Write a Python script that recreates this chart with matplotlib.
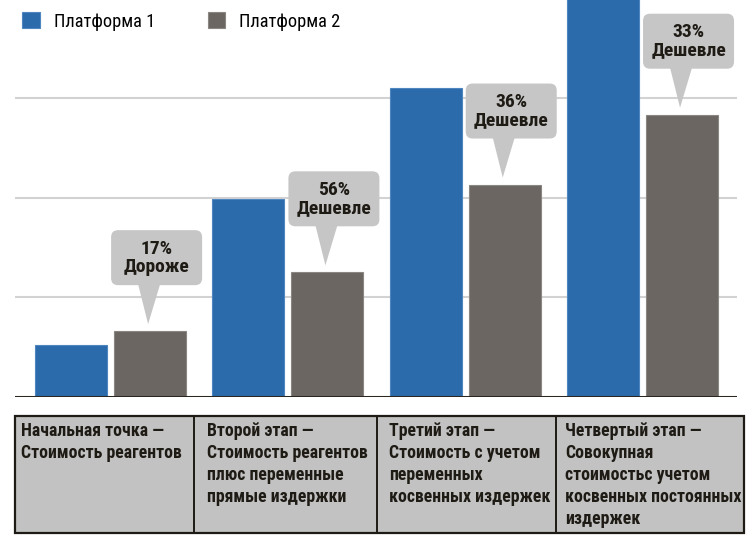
import matplotlib.pyplot as plt
from matplotlib.patches import Rectangle, FancyBboxPatch, Polygon
from matplotlib.transforms import Affine2D, ScaledTranslation
import numpy as np

# data (one gridline = 1 unit)
stages = ['Начальная точка —\nСтоимость реагентов',
          'Второй этап —\nСтоимость реагентов\nплюс переменные\nпрямые издержки',
          'Третий этап —\nСтоимость с учетом\nпеременных\nкосвенных издержек',
          'Четвертый этап —\nСовокупная\nстоимостьс учетом\nкосвенных постоянных\nиздержек']
platform1 = [0.52, 1.98, 3.10, 4.30]
platform2 = [0.66, 1.25, 2.13, 2.83]
callouts = ['17%\nДороже', '56%\nДешевле', '36%\nДешевле', '33%\nДешевле']
series_names = ['Платформа 1', 'Платформа 2']

BLUE = '#2b6aab'
GRAY = '#6b6662'
BOX = '#c6c6c6'
DARK = '#1e1a14'

plt.rcParams['font.family'] = ['Roboto Condensed', 'DejaVu Sans']

W, H = 756, 539
fig = plt.figure(figsize=(W / 100, H / 100), dpi=100)
ax = fig.add_axes([15 / W, (H - 397) / H, (737 - 15) / W, 397 / H])

x = np.arange(len(stages))
bw = 0.406
off = 0.223
b1 = ax.bar(x - off, platform1, bw, color=BLUE, edgecolor='#4f86c0', linewidth=0.8,
            label=series_names[0], zorder=2)
b2 = ax.bar(x + off, platform2, bw, color=GRAY, edgecolor='#8a8682', linewidth=0.8,
            label=series_names[1], zorder=2)

ax.set_xlim(-0.539, 3.533)
ax.set_ylim(0, 3.98)
for g in [1, 2, 3]:
    ax.axhline(g, color='#d2d2d2', lw=1.5, zorder=1)
ax.axhline(0, color='#2b2620', lw=2.2, zorder=3)
for s in ax.spines.values():
    s.set_visible(False)
ax.set_xticks([])
ax.set_yticks([])

# callouts above the second platform's bars (shape in pixels, anchored at bar top)
for xi, val, txt in zip(x, platform2, callouts):
    tr = Affine2D() + ScaledTranslation(xi + off, val, ax.transData)
    box = FancyBboxPatch((-39, 46), 91, 55, boxstyle='round,pad=0,rounding_size=7',
                         fc=BOX, ec='none', transform=tr, zorder=4, clip_on=False)
    ax.add_patch(box)
    tip = Polygon([(-12, 47), (10, 47), (-2, 7)], closed=True, fc=BOX, ec='none',
                  transform=tr, zorder=4, clip_on=False)
    ax.add_patch(tip)
    ax.text(0, 0, txt, transform=Affine2D().translate(6.5, 73.5) + tr,
            ha='center', va='center', fontsize=14, fontweight='bold',
            color=DARK, linespacing=1.0, zorder=5)

fig.legend(handles=[b1, b2], labels=series_names, loc='upper left',
           bbox_to_anchor=(15 / W, 1 - 5 / H), ncol=2, frameon=False,
           fontsize=13.2, handlelength=0.95, handleheight=0.95, handletextpad=0.75,
           columnspacing=2.9, borderaxespad=0)

# table of stages under the chart
tax = fig.add_axes([15 / W, (H - 533) / H, (744 - 15) / W, (533 - 416) / H])
tax.set_xlim(15, 744)
tax.set_ylim(533, 416)
tax.axis('off')
edges = [15, 194, 377, 556, 744]
text_x = [21, 207, 389, 565]
tax.add_patch(Rectangle((15, 416), 729, 117, fc='#c2c2c2', ec=DARK, lw=1.6,
                        clip_on=False))
for e in edges[1:-1]:
    tax.plot([e, e], [416, 531], color=DARK, lw=1.4, clip_on=False)
for tx, label in zip(text_x, stages):
    tax.text(tx, 422, label, ha='left', va='top', fontsize=12.8, fontweight='bold',
             color=DARK, linespacing=1.28)

fig.savefig('out.png', dpi=100)
